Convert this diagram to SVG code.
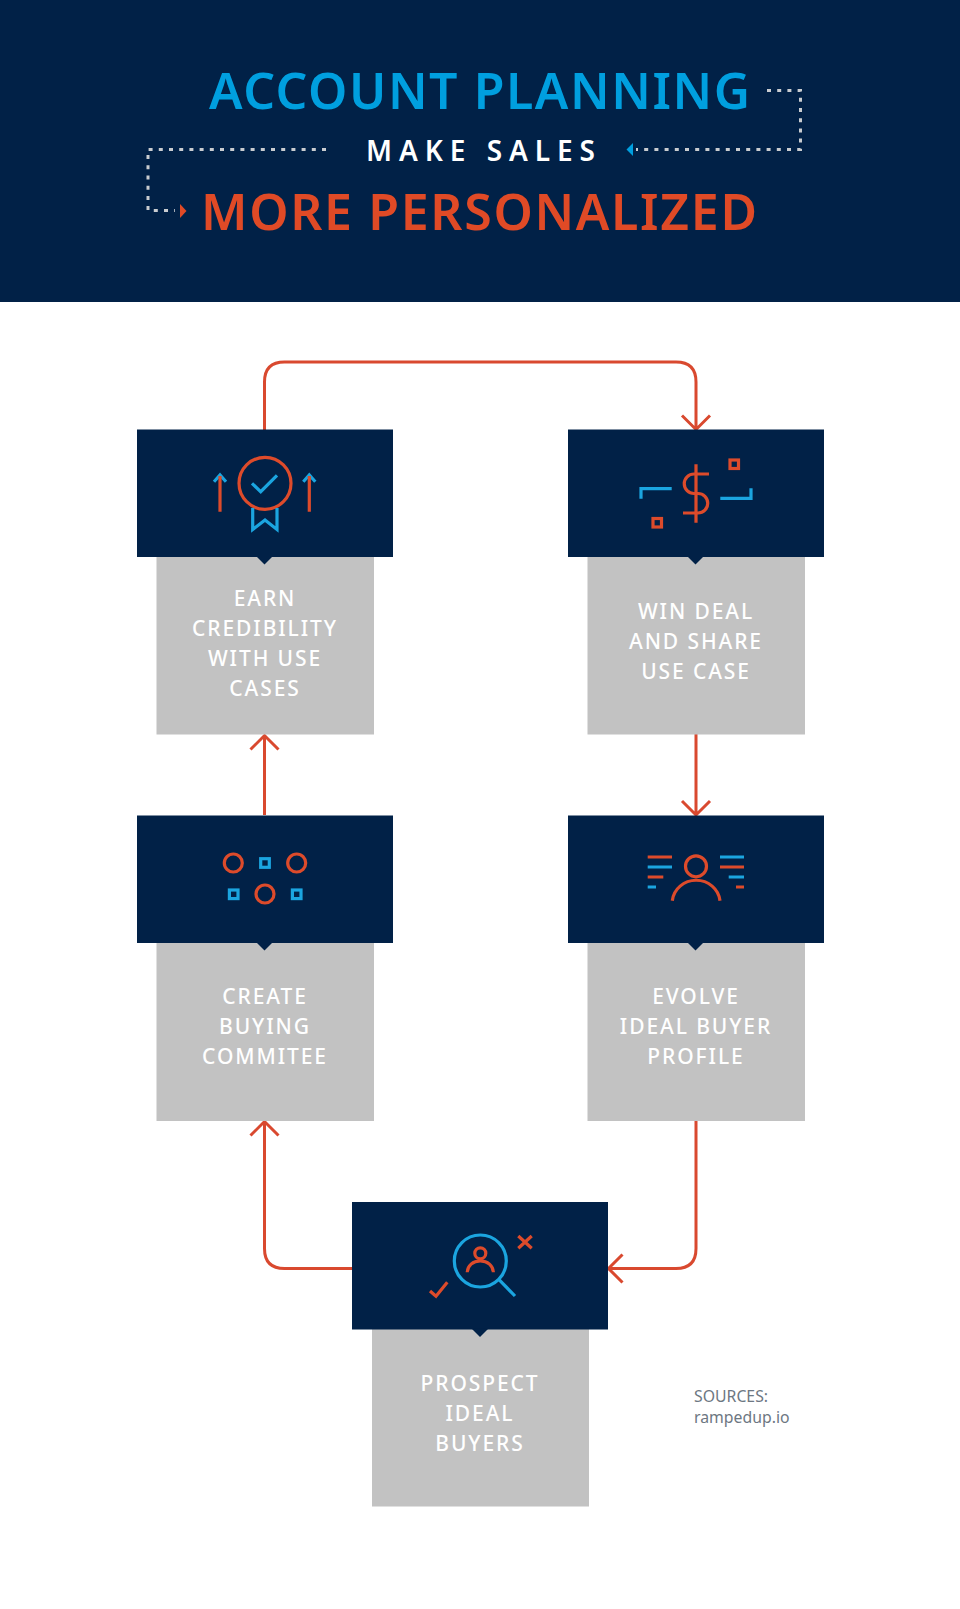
<svg xmlns="http://www.w3.org/2000/svg" width="960" height="1609" viewBox="0 0 960 1609">
<style>
text{font-family:"Noto Sans","Open Sans","Liberation Sans",sans-serif}
.nav{fill:#012147}.gray{fill:#c2c2c2}
.lbl{fill:#fff;font-size:21px;letter-spacing:1.9px;text-anchor:middle;font-weight:500}
.t{font-size:50px;font-weight:600}
.r,.b,.c,.d{fill:none;stroke-width:3}
.r{stroke:#dd4b2b;stroke-width:3.2}.b{stroke:#1ba5e0;stroke-width:3.2}
.c{stroke:#d9492f}
.d{stroke:#c9ccd0;stroke-width:3;stroke-dasharray:4 6.2}
</style>
<rect class="nav" width="960" height="302"/>
<g id="header">
<text class="t" x="209" y="108.5" fill="#009fdf" textLength="541" lengthAdjust="spacing">ACCOUNT PLANNING</text>
<text x="366" y="161" fill="#fff" font-size="28" font-weight="600" textLength="229" lengthAdjust="spacing">MAKE SALES</text>
<text class="t" x="201" y="229.5" fill="#e04a26" textLength="556" lengthAdjust="spacing">MORE PERSONALIZED</text>
<path class="d" d="M767 90.500H800.500V149.500H636"/>
<path d="M626.500 149.500L633 143V156Z" fill="#009fdf"/>
<path class="d" d="M326 149.500H148V210.500H175"/>
<path d="M186.500 211L180 204V218Z" fill="#e04a26"/>
</g>
<g id="connectors">
<path class="c" d="M264.500 430V382Q264.500 362 284.500 362H676Q696 362 696 382V429.500M682 415.500L696 429.500L710 415.500"/>
<path class="c" d="M264.500 815V735.500M250.500 749.500L264.500 735.500L278.500 749.500"/>
<path class="c" d="M696 734V815M682 801L696 815L710 801"/>
<path class="c" d="M352 1268.500H284.500Q264.500 1268.500 264.500 1248.500V1121.500M250.500 1135.500L264.500 1121.500L278.500 1135.500"/>
<path class="c" d="M696 1120V1248.500Q696 1268.500 676 1268.500H608.500M622.500 1254.500L608.500 1268.500L622.500 1282.500"/>
</g>
<g id="node-earn">
<rect class="gray" x="156.500" y="557" width="217.500" height="177.500"/>
<rect class="nav" x="137" y="429.500" width="256" height="127.500"/>
<path class="nav" d="M256 556H273L264.500 564.500Z"/>
<circle class="r" cx="265" cy="483.300" r="26"/>
<path class="b" d="M252 483.300L260.700 491.700L277 475.300M252.700 508V529.500L265 520L277 529.500V508M214 481.700L220 475L226 481.700M303.300 481.700L309.300 475L315.300 481.700"/>
<path class="r" d="M220 476V511.700M309.300 476V511.700"/>
<text class="lbl" x="265" y="606">EARN</text>
<text class="lbl" x="265" y="636">CREDIBILITY</text>
<text class="lbl" x="265" y="666">WITH USE</text>
<text class="lbl" x="265" y="696">CASES</text>
</g>
<g id="node-win">
<rect class="gray" x="587.500" y="557" width="217.500" height="177.500"/>
<rect class="nav" x="568" y="429.500" width="256" height="127.500"/>
<path class="nav" d="M687 556H704L695.500 564.500Z"/>
<path class="r" d="M696 464.300V522.700M709 474H694A9.750 9.750 0 0 0 694 493.500H698A9.750 9.750 0 0 1 698 513H683"/>
<rect class="r" x="730" y="460" width="8.500" height="8.500"/>
<rect class="r" x="653" y="518.500" width="8.500" height="8.500"/>
<path class="b" d="M641 498.700V488.700H671.700M720.300 498.300H751V488.300"/>
<text class="lbl" x="696" y="619">WIN DEAL</text>
<text class="lbl" x="696" y="649">AND SHARE</text>
<text class="lbl" x="696" y="679">USE CASE</text>
</g>
<g id="node-create">
<rect class="gray" x="156.500" y="943" width="217.500" height="178"/>
<rect class="nav" x="137" y="815.500" width="256" height="127.500"/>
<path class="nav" d="M256 942H273L264.500 950.500Z"/>
<circle class="r" cx="233.300" cy="863" r="9"/>
<circle class="r" cx="296.700" cy="863" r="9"/>
<circle class="r" cx="265" cy="894" r="9"/>
<rect class="b" x="260.700" y="858.700" width="8.600" height="8.600"/>
<rect class="b" x="229.400" y="890" width="8.600" height="8.600"/>
<rect class="b" x="292.400" y="890" width="8.600" height="8.600"/>
<text class="lbl" x="265" y="1004">CREATE</text>
<text class="lbl" x="265" y="1034">BUYING</text>
<text class="lbl" x="265" y="1064">COMMITEE</text>
</g>
<g id="node-evolve">
<rect class="gray" x="587.500" y="943" width="217.500" height="178"/>
<rect class="nav" x="568" y="815.500" width="256" height="127.500"/>
<path class="nav" d="M687 942H704L695.500 950.500Z"/>
<circle class="r" cx="696" cy="866.300" r="10.500"/>
<path class="r" d="M672.300 900.700A24 23 0 0 1 720 900.700M647.700 857H672M647.700 877H663.300M720 867H744M736 887H744"/>
<path class="b" d="M647.700 867H672M647.700 887H656M720 857H744M728.700 877H744"/>
<text class="lbl" x="696" y="1004">EVOLVE</text>
<text class="lbl" x="696" y="1034">IDEAL BUYER</text>
<text class="lbl" x="696" y="1064">PROFILE</text>
</g>
<g id="node-prospect">
<rect class="gray" x="372" y="1329" width="217" height="177.500"/>
<rect class="nav" x="352" y="1202" width="256" height="127.500"/>
<path class="nav" d="M471.500 1328.500H488.500L480 1337Z"/>
<circle class="b" cx="480.300" cy="1261" r="26"/>
<path class="b" d="M499 1279.700L515 1296"/>
<circle class="r" cx="480.300" cy="1253.300" r="5.500"/>
<path class="r" d="M467.300 1272.300A13 11.500 0 0 1 493.300 1272.300M430 1291L436 1296.300L447.300 1282.300M518.300 1236L531.700 1248.300M531.700 1236L518.300 1248.300"/>
<text class="lbl" x="480" y="1391">PROSPECT</text>
<text class="lbl" x="480" y="1421">IDEAL</text>
<text class="lbl" x="480" y="1451">BUYERS</text>
</g>
<g id="sources" fill="#6d7782" font-size="15.800">
<text x="694" y="1402">SOURCES:</text>
<text x="694" y="1423">rampedup.io</text>
</g>
</svg>
